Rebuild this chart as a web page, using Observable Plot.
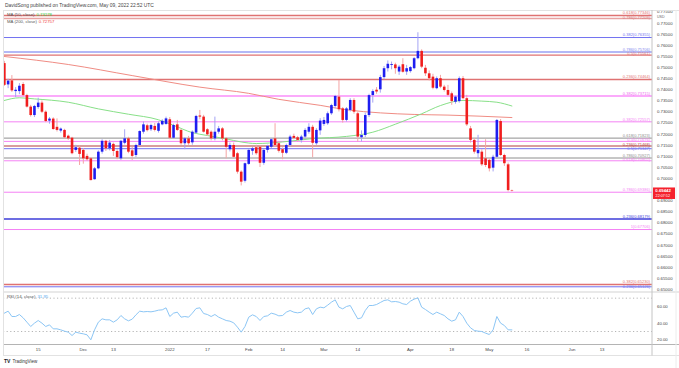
<!DOCTYPE html>
<html>
<head>
<meta charset="utf-8">
<script src="https://cdn.jsdelivr.net/npm/d3@7"></script>
<script src="https://cdn.jsdelivr.net/npm/@observablehq/plot@0.6"></script>
<style>
  html, body { margin: 0; padding: 0; background: #fff; }
  #wrap { position: relative; width: 679px; height: 368px; overflow: hidden; background: #fff;
          font-family: "Liberation Sans", Arial, sans-serif; }
  #main, #rsi { position: absolute; left: 0; }
  #main { top: 10px; }
  #rsi { top: 292px; }
</style>
</head>
<body>
<div id="wrap"><div id="main"></div><div id="rsi"></div></div>
<script>
// ---------- DATA ----------
// bar index = weekday count from Mon 2021-11-15 (index 0); first bar is 2021-11-02
const firstBarIndex = -9;
const opens = [
  .7518,.7422,.7440,.7392,.7392,.7424,.7374,.7322,.7284,.7320,
  .7340,.7299,.7259,.7268,.7231,.7214,.7217,.7191,.7182,.7127,
  .7137,.7127,.7100,.7089,.6995,.7044,.7119,.7168,.7134,.7154,
  .7122,.7089,.7159,.7179,.7125,.7104,.7149,.7209,.7238,.7220,
  .7235,.7213,.7242,.7244,.7265,.7182,.7242,.7217,.7157,.7179,
  .7161,.7205,.7282,.7277,.7220,.7209,.7179,.7209,.7224,.7179,
  .7130,.7149,.7112,.7029,.6988,.7064,.7123,.7139,.7141,.7069,
  .7127,.7141,.7179,.7157,.7130,.7114,.7149,.7190,.7184,.7172,
  .7187,.7209,.7231,.7157,.7215,.7244,.7247,.7292,.7325,.7367,
  .7314,.7262,.7307,.7352,.7292,.7184,.7194,.7284,.7374,.7398,
  .7400,.7455,.7495,.7510,.7512,.7480,.7513,.7480,.7482,.7495,
  .7540,.7573,.7497,.7472,.7457,.7405,.7450,.7412,.7397,.7382,
  .7344,.7347,.7450,.7360,.7224,.7172,.7112,.7119,.7089,.7082,
  .7047,.7096,.7257,.7104,.7062,.6946
];
const highs = [
  .7528,.7448,.7464,.7410,.7428,.7432,.7380,.7330,.7330,.7362,
  .7350,.7305,.7275,.7274,.7269,.7228,.7222,.7196,.7186,.7150,
  .7146,.7135,.7110,.7095,.7050,.7125,.7175,.7172,.7172,.7160,
  .7130,.7172,.7220,.7186,.7141,.7155,.7215,.7255,.7245,.7245,
  .7248,.7255,.7265,.7277,.7275,.7245,.7262,.7222,.7185,.7190,
  .7215,.7285,.7307,.7285,.7225,.7215,.7277,.7235,.7230,.7185,
  .7160,.7160,.7118,.7035,.7070,.7130,.7140,.7150,.7148,.7130,
  .7150,.7180,.7247,.7165,.7138,.7155,.7195,.7200,.7190,.7195,
  .7225,.7247,.7240,.7225,.7270,.7275,.7300,.7335,.7375,.7442,
  .7320,.7320,.7360,.7360,.7300,.7215,.7295,.7380,.7400,.7410,
  .7465,.7505,.7530,.7525,.7520,.7510,.7540,.7510,.7505,.7545,
  .7657,.7580,.7510,.7485,.7470,.7458,.7465,.7420,.7420,.7390,
  .7372,.7458,.7460,.7375,.7235,.7180,.7195,.7130,.7175,.7090,
  .7105,.7266,.7266,.7110,.7070,.6948
];
const lows = [
  .7415,.7405,.7388,.7365,.7378,.7368,.7318,.7277,.7275,.7312,
  .7293,.7252,.7245,.7218,.7210,.7205,.7178,.7172,.7107,.7118,
  .7059,.7065,.7078,.6990,.6993,.7040,.7110,.7122,.7125,.7100,
  .7085,.7082,.7152,.7112,.7082,.7095,.7145,.7200,.7210,.7212,
  .7210,.7205,.7238,.7240,.7175,.7178,.7212,.7150,.7130,.7150,
  .7150,.7200,.7265,.7205,.7190,.7170,.7170,.7200,.7170,.7089,
  .7120,.7090,.7020,.6967,.6980,.7060,.7105,.7105,.7050,.7060,
  .7115,.7135,.7140,.7115,.7085,.7108,.7140,.7175,.7165,.7160,
  .7180,.7200,.7094,.7150,.7195,.7235,.7240,.7285,.7315,.7300,
  .7250,.7255,.7300,.7290,.7165,.7165,.7185,.7275,.7340,.7380,
  .7385,.7445,.7480,.7490,.7470,.7465,.7475,.7465,.7475,.7490,
  .7535,.7495,.7460,.7440,.7400,.7400,.7405,.7390,.7370,.7330,
  .7335,.7340,.7355,.7235,.7160,.7110,.7090,.7055,.7050,.7030,
  .7030,.7090,.7100,.7055,.6940,.6940
];
const closes = [
  .7420,.7439,.7395,.7398,.7416,.7374,.7322,.7284,.7325,.7340,
  .7299,.7257,.7268,.7221,.7217,.7223,.7184,.7179,.7112,.7139,
  .7109,.7089,.7085,.6991,.7044,.7119,.7168,.7134,.7160,.7122,
  .7094,.7168,.7179,.7119,.7100,.7149,.7212,.7242,.7216,.7239,
  .7217,.7247,.7258,.7269,.7182,.7239,.7217,.7157,.7179,.7157,
  .7209,.7280,.7277,.7209,.7197,.7179,.7209,.7224,.7179,.7141,
  .7149,.7096,.7029,.6984,.7067,.7127,.7134,.7112,.7069,.7127,
  .7145,.7175,.7149,.7123,.7114,.7149,.7187,.7181,.7172,.7187,
  .7217,.7231,.7159,.7217,.7259,.7262,.7292,.7329,.7370,.7310,
  .7262,.7314,.7352,.7299,.7187,.7194,.7284,.7374,.7392,.7390,
  .7455,.7495,.7515,.7514,.7495,.7502,.7479,.7495,.7500,.7540,
  .7573,.7502,.7472,.7450,.7407,.7450,.7412,.7397,.7375,.7347,
  .7367,.7450,.7360,.7242,.7172,.7119,.7127,.7062,.7059,.7044,
  .7096,.7262,.7104,.7067,.6946,.6944
];
const rsiValues = [
  52.0,54.4,48.0,48.0,50.4,46.4,41.2,36.0,40.0,43.2,
  40.0,36.0,38.0,33.2,33.2,32.0,30.4,29.2,25.2,29.2,
  28.0,27.2,26.0,20.0,32.0,41.2,45.2,44.0,44.0,41.2,
  44.0,49.2,45.2,42.8,44.8,50.0,54.4,53.6,54.0,53.6,
  54.4,55.6,56.0,58.4,48.0,52.0,53.2,47.2,48.0,47.2,
  52.0,57.6,58.4,51.6,50.4,48.0,50.4,47.2,45.2,43.2,
  42.4,40.4,35.2,29.2,36.0,47.2,50.0,48.0,43.2,48.0,
  48.8,52.0,50.8,48.8,49.2,53.2,55.2,53.2,52.4,53.2,
  57.2,58.4,50.4,57.2,59.2,58.4,61.6,65.2,68.0,59.2,
  57.2,60.0,61.2,53.2,45.2,46.4,55.2,61.2,61.2,62.4,
  64.8,67.2,68.0,65.6,66.0,65.2,63.2,62.4,66.4,68.8,
  70.4,59.2,56.4,53.2,50.4,53.2,51.2,49.2,45.2,42.4,
  44.0,53.2,48.0,40.0,34.4,31.2,30.4,30.0,28.0,26.4,
  32.0,48.0,40.0,37.2,32.0,31.95
];
const ma50Index  = [-9, -5, -1, 8, 16, 24, 32, 36, 41, 45, 50, 54, 58, 65, 73, 82, 89, 95, 102, 107, 113, 118, 122, 126];
const ma50Values = [.7352,.7364,.7359,.7344,.7314,.7290,.7265,.7240,.7207,.7194,.7179,.7165,.7158,.7165,.7180,.7190,.7209,.7245,.7292,.7329,.7352,.7349,.7344,.7327];
const ma200Index  = [-9, 8, 25, 43, 56, 64, 75, 82, 91, 100, 109, 126];
const ma200Values = [.7550,.7514,.7464,.7412,.7384,.7357,.7330,.7310,.7296,.7289,.7286,.7275];

const levelLabels = ["0.618(0.77346)","0.786(0.77209)","0.382(0.76355)","0.786(0.75706)","0.5(0.75561)",
  "0.236(0.74464)","0.382(0.73715)","0.382(0.72557)","0.618(0.71823)","0.5(0.71676)","0.236(0.71468)",
  "0.5(0.71347)","0.786(0.70927)","0.618(0.70802)","0.786(0.69386)","0.236(0.68179)","1(0.67706)",
  "0.382(0.65230)","0.236(0.65126)"];
const levelValues = [0.77346,0.77209,0.76355,0.75706,0.75561,0.74464,0.73715,0.72557,0.71823,0.71676,0.71468,
  0.71347,0.70927,0.70802,0.69386,0.68179,0.67706,0.65230,0.65126];
const levelKinds = ["red","red2","blue","lightblue","red","red","pinkthick","pink","gray","pink","darkred",
  "blue","gray","pink","pink","navy","pink","red","blue"];

const priceTicks = [0.650,0.655,0.660,0.665,0.670,0.675,0.680,0.685,0.690,0.700,0.705,0.710,0.715,
  0.720,0.725,0.730,0.735,0.740,0.745,0.750,0.755,0.760,0.765,0.770,0.775];
const rsiTicks = [20, 40, 60];
const rsiBands = [30, 70];
const xTickIndex  = [0, 12, 20, 35, 45, 56, 65, 76, 85, 99, 110, 120, 130, 142, 150];
const xTickLabels = ["15","Dec","13","2022","17","Feb","14","Mar","14","Apr","18","May","16","Jun","13"];
const lastPrice = 0.69442;
const countdown = "22:07:52";
const ma50Last = "0.73278", ma200Last = "0.72757", rsiLast = "31.95";
const headerText = "DavidSong published on TradingView.com, May 09, 2022 22:52 UTC";

// ---------- STYLES ----------
const levelStyle = {
  red:       {color: "#df7272", width: 1.3},
  red2:      {color: "#e8a2a2", width: 1.5},
  darkred:   {color: "#b23b3b", width: 1},
  blue:      {color: "#7272f0", width: 1},
  lightblue: {color: "#b3b8f6", width: 2},
  navy:      {color: "#3c3cd8", width: 1.6},
  pink:      {color: "#f482f4", width: 1},
  pinkthick: {color: "#fbaafb", width: 2},
  gray:      {color: "#8e8e8e", width: 1}
};
const textColor = {pinkthick: "#ee66ee", lightblue: "#7f86ee", red2: "#d77a7a"};
const upColor = "#1e1ef0", downColor = "#f01e1e", upWick = "#a4a4f4", downWick = "#f4a4a4";
const FONT = "'Liberation Sans', Arial, sans-serif";
const W = 679, MAIN_H = 282;
const xDomain = [-9.23, 163.4];
const yDomain = [0.64869, 0.77572];
const LABEL_FONT = 4.0, LABEL_GAP = 4.3;

// ---------- BUILD TABLES ----------
const bars = opens.map((o, k) => ({i: firstBarIndex + k, open: o, high: highs[k], low: lows[k], close: closes[k]}));
const rsi = rsiValues.map((v, k) => ({i: firstBarIndex + k, v}));
const ma50 = ma50Index.map((i, k) => ({i, v: ma50Values[k]}));
const ma200 = ma200Index.map((i, k) => ({i, v: ma200Values[k]}));
const levels = levelLabels.map((label, k) => ({label, value: levelValues[k], kind: levelKinds[k]}));
const xLabelOf = new Map(xTickIndex.map((t, k) => [t, xTickLabels[k]]));

// label placement: each label sits just above its line, nudged down so neighbours do not collide
const yPix = d3.scaleLinear(yDomain, [MAIN_H, 0]);
{
  const sorted = [...levels].sort((a, b) => b.value - a.value);
  let prevBottom = -Infinity;
  for (const d of sorted) {
    let bottom = yPix(d.value) - 1.1;
    if (bottom < prevBottom + LABEL_GAP) bottom = prevBottom + LABEL_GAP;
    d.labelAt = yPix.invert(bottom);
    prevBottom = bottom;
  }
}

// ---------- MAIN PANE ----------
const main = Plot.plot({
  width: W, height: MAIN_H,
  marginLeft: 3, marginRight: 27, marginTop: 0, marginBottom: 0,
  x: {domain: xDomain, axis: null},
  y: {domain: yDomain, label: null},
  color: {type: "identity"},
  style: {fontFamily: FONT, background: "transparent", overflow: "visible"},
  marks: [
    Plot.ruleY(levels, {y: "value", stroke: d => levelStyle[d.kind].color, strokeWidth: d => levelStyle[d.kind].width}),
    Plot.text(levels, {y: "labelAt", text: "label", frameAnchor: "right", textAnchor: "end", lineAnchor: "bottom",
      dx: -2.5, fontSize: LABEL_FONT, fill: d => textColor[d.kind] || levelStyle[d.kind].color}),
    Plot.line(ma200, {x: "i", y: "v", stroke: "#f08c84", strokeWidth: 1, curve: "monotone-x"}),
    Plot.line(ma50, {x: "i", y: "v", stroke: "#88e088", strokeWidth: 1, curve: "monotone-x"}),
    Plot.ruleX(bars, {x: "i", y1: "low", y2: "high", stroke: d => d.close >= d.open ? upWick : downWick, strokeWidth: 1}),
    Plot.ruleX(bars, {x: "i", y1: "open", y2: "close", stroke: d => d.close >= d.open ? upColor : downColor, strokeWidth: 2.6}),
    Plot.axisY({anchor: "right", ticks: priceTicks, tickFormat: d3.format(".5f"), tickSize: 0, tickPadding: 4.5,
      fontSize: 4.3, color: "#444", label: null})
  ]
});
document.getElementById("main").appendChild(main);

// ---------- RSI PANE ----------
const rsiPlot = Plot.plot({
  width: W, height: 64,
  marginLeft: 3, marginRight: 27, marginTop: 0, marginBottom: 12,
  x: {domain: xDomain, label: null},
  y: {domain: [14.4, 76.8], label: null},
  style: {fontFamily: FONT, background: "transparent", overflow: "visible"},
  marks: [
    Plot.ruleY(rsiBands, {stroke: "#b5b5b5", strokeDasharray: "1.2,2.4", strokeWidth: 1}),
    Plot.line(rsi, {x: "i", y: "v", stroke: "#8cc6f5", strokeWidth: 1}),
    Plot.axisY({anchor: "right", ticks: rsiTicks, tickFormat: d3.format(".2f"), tickSize: 0, tickPadding: 4.5,
      fontSize: 4.3, color: "#444", label: null}),
    Plot.axisX({anchor: "bottom", ticks: xTickIndex, tickFormat: d => xLabelOf.get(d), tickSize: 0, tickPadding: 3.8,
      fontSize: 4.3, color: "#444", label: null})
  ]
});
document.getElementById("rsi").appendChild(rsiPlot);

// ---------- OVERLAY (frame, legends, tags) ----------
const ov = d3.select("#wrap").append("svg")
  .attr("width", W).attr("height", 368)
  .style("position", "absolute").style("left", 0).style("top", 0)
  .style("pointer-events", "none").style("font-family", FONT);

const hline = (y, x1, x2, c, w) => ov.append("line").attr("x1", x1).attr("x2", x2).attr("y1", y).attr("y2", y).attr("stroke", c).attr("stroke-width", w);
const vline = (x, y1, y2, c, w) => ov.append("line").attr("x1", x).attr("x2", x).attr("y1", y1).attr("y2", y2).attr("stroke", c).attr("stroke-width", w);
hline(10.5, 3, W, "#e2e2e2", 1);
hline(292, 3, W, "#d4d4d4", 1.2);
hline(344.5, 3, W, "#b4b4b4", 1.2);
hline(355.5, 3, W, "#e2e2e2", 1);
vline(3.5, 10, 355.5, "#e2e2e2", 1);
vline(652, 10, 355.5, "#c4c4c4", 1);
vline(676, 10, 368, "#ececec", 1);

ov.append("text").attr("x", 5).attr("y", 6).attr("dominant-baseline", "middle")
  .attr("font-size", 4.9).attr("fill", "#444").text(headerText);

const legend = (y, label, value, color) => {
  const t = ov.append("text").attr("x", 7).attr("y", y).attr("dominant-baseline", "middle").attr("font-size", 4.3).attr("fill", "#555");
  t.append("tspan").text(label);
  t.append("tspan").attr("dx", 2).attr("fill", color).text(value);
};
legend(15, "MA (50, close)", ma50Last, "#2fcf3a");
legend(22, "MA (200, close)", ma200Last, "#f03c3c");
legend(296.7, "RSI (14, close)", rsiLast, "#5aaaf0");

ov.append("text").attr("x", 657).attr("y", 16.8).attr("dominant-baseline", "middle")
  .attr("font-size", 3.6).attr("fill", "#666").text("USD");

// last price tag, positioned through the main y scale
const yLast = 10 + main.scale("y").apply(lastPrice);
ov.append("rect").attr("x", 653).attr("y", yLast - 3).attr("width", 22).attr("height", 11.5).attr("fill", "#f5222d");
ov.append("text").attr("x", 655.3).attr("y", yLast).attr("dominant-baseline", "middle")
  .attr("font-size", 4.3).attr("font-weight", "bold").attr("fill", "#fff").text(lastPrice.toFixed(5));
ov.append("text").attr("x", 655.6).attr("y", yLast + 5.5).attr("dominant-baseline", "middle")
  .attr("font-size", 3.7).attr("fill", "#fff").text(countdown);

// TradingView logo text
ov.append("text").attr("x", 4).attr("y", 361.5).attr("dominant-baseline", "middle")
  .attr("font-size", 5).attr("font-weight", "bold").attr("fill", "#131722").text("TV");
ov.append("text").attr("x", 12.5).attr("y", 361.5).attr("dominant-baseline", "middle")
  .attr("font-size", 4.5).attr("fill", "#333").text("TradingView");
</script>
</body>
</html>
